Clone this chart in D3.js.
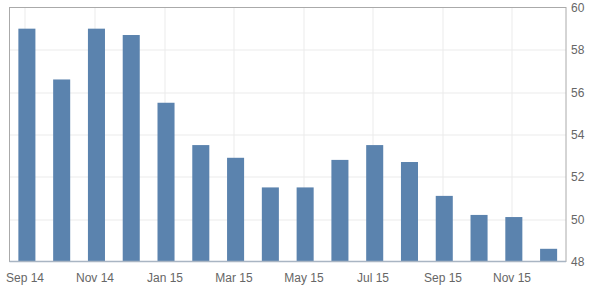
<!DOCTYPE html>
<html>
<head>
<meta charset="utf-8">
<script src="https://cdn.jsdelivr.net/npm/d3@7"></script>
<style>
  html, body { margin: 0; padding: 0; background: #fff; }
  svg { display: block; font-family: "Liberation Sans", Arial, sans-serif; }
</style>
</head>
<body>
<svg id="chart"></svg>
<script>
// months shown as bars
const months = [
  "Sep 14", "Oct 14", "Nov 14", "Dec 14", "Jan 15", "Feb 15", "Mar 15", "Apr 15",
  "May 15", "Jun 15", "Jul 15", "Aug 15", "Sep 15", "Oct 15", "Nov 15", "Dec 15"
];
const values = [
  59.0, 56.6, 59.0, 58.7, 55.5, 53.5, 52.9, 51.5,
  51.5, 52.8, 53.5, 52.7, 51.1, 50.2, 50.1, 48.6
];
const xTickLabels = ["Sep 14", "Nov 14", "Jan 15", "Mar 15", "May 15", "Jul 15", "Sep 15", "Nov 15"];
const yTicks = [48, 50, 52, 54, 56, 58, 60];

const width = 592, height = 288;
const margin = { top: 7.5, right: 26, bottom: 26.5, left: 9.5 };
const innerW = width - margin.left - margin.right;
const innerH = height - margin.top - margin.bottom;

const svg = d3.select("#chart").attr("width", width).attr("height", height);
const g = svg.append("g").attr("transform", `translate(${margin.left},${margin.top})`);

const x = d3.scaleBand().domain(months).range([0, innerW]).paddingInner(0.51).paddingOuter(0.255);
const y = d3.scaleLinear().domain([48, 60]).range([innerH, 0]);

// tick marks sit a little left of the bar centre
const tickX = m => Math.round(x(m) + x.bandwidth() / 2 - 2) + 0.5;

// grid
g.append("g")
  .selectAll("line")
  .data(yTicks.slice(1, -1))
  .join("line")
  .attr("x1", 0).attr("x2", innerW)
  .attr("y1", d => Math.round(y(d)) + 0.5).attr("y2", d => Math.round(y(d)) + 0.5)
  .attr("stroke", "#ebebeb");

g.append("g")
  .selectAll("line")
  .data(xTickLabels)
  .join("line")
  .attr("x1", tickX).attr("x2", tickX)
  .attr("y1", 0).attr("y2", innerH)
  .attr("stroke", "#ebebeb");

// bars
g.append("g")
  .selectAll("rect")
  .data(months)
  .join("rect")
  .attr("x", d => x(d))
  .attr("width", x.bandwidth())
  .attr("y", (d, i) => y(values[i]))
  .attr("height", (d, i) => innerH - y(values[i]))
  .attr("fill", "#5b83ae");

// frame
g.append("rect")
  .attr("x", 0).attr("y", 0)
  .attr("width", innerW).attr("height", innerH)
  .attr("fill", "none")
  .attr("stroke", "#aaaaaa");

g.append("line")
  .attr("x1", 0).attr("x2", innerW)
  .attr("y1", innerH).attr("y2", innerH)
  .attr("stroke", "#a9b5c3")
  .attr("stroke-width", 1.5);

// y axis on the right
const yAxis = g.append("g")
  .attr("transform", `translate(${innerW},0)`)
  .call(d3.axisRight(y).tickValues(yTicks).tickSize(0).tickPadding(5).tickFormat(d3.format("d")));
yAxis.select(".domain").remove();
yAxis.selectAll("text")
  .attr("fill", "#666")
  .attr("font-size", 12)
  .attr("font-family", "Liberation Sans, Arial, sans-serif");

// x axis labels
g.append("g")
  .selectAll("text")
  .data(xTickLabels)
  .join("text")
  .attr("x", tickX)
  .attr("y", innerH + 20)
  .attr("text-anchor", "middle")
  .attr("fill", "#666")
  .attr("font-size", 12)
  .text(d => d);
</script>
</body>
</html>
